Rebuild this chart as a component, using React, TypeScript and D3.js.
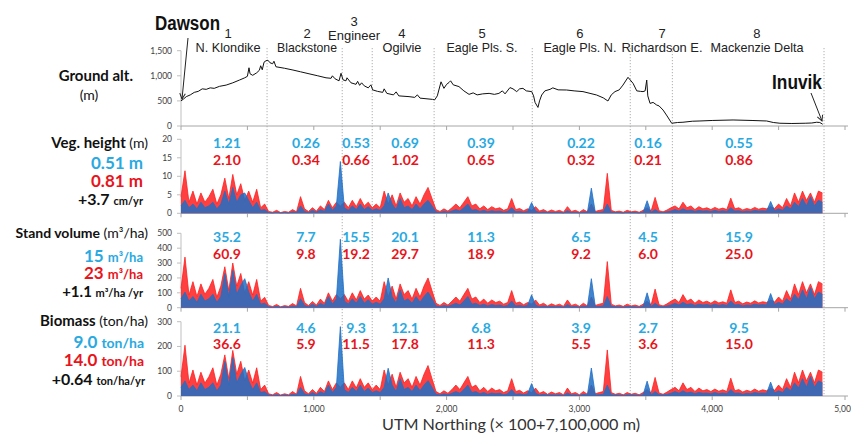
import React from 'react';
import * as d3 from 'd3';

// ---------------- DATA ----------------
const regionBounds = [648, 1214, 1440, 1906, 2645, 3383, 3700, 4842];
const regionNums = ['1', '2', '3', '4', '5', '6', '7', '8'];
const regionNames = ['N. Klondike', 'Blackstone', 'Engineer', 'Ogilvie', 'Eagle Pls. S.', 'Eagle Pls. N.', 'Richardson E.', 'Mackenzie Delta'];

const vegBlueMeans = ['1.21', '0.26', '0.53', '0.69', '0.39', '0.22', '0.16', '0.55'];
const vegRedMeans = ['2.10', '0.34', '0.66', '1.02', '0.65', '0.32', '0.21', '0.86'];
const volBlueMeans = ['35.2', '7.7', '15.5', '20.1', '11.3', '6.5', '4.5', '15.9'];
const volRedMeans = ['60.9', '9.8', '19.2', '29.7', '18.9', '9.2', '6.0', '25.0'];
const bioBlueMeans = ['21.1', '4.6', '9.3', '12.1', '6.8', '3.9', '2.7', '9.5'];
const bioRedMeans = ['36.6', '5.9', '11.5', '17.8', '11.3', '5.5', '3.6', '15.0'];

const altNorthing = [0,20,40,70,100,130,160,190,220,250,290,340,390,440,480,500,512,520,540,570,590,600,612,625,640,655,670,690,700,715,780,843,900,964,1030,1092,1130,1140,1160,1190,1205,1220,1242,1250,1280,1318,1330,1345,1360,1380,1410,1430,1443,1480,1519,1530,1550,1600,1620,1640,1717,1760,1780,1800,1895,1910,1930,1958,1980,2000,2018,2030,2050,2093,2130,2169,2200,2230,2272,2320,2360,2394,2420,2440,2477,2500,2528,2550,2575,2600,2641,2655,2666,2688,2700,2716,2740,2779,2800,2840,2904,2960,3027,3080,3130,3180,3215,3240,3268,3300,3328,3366,3404,3432,3460,3479,3495,3507,3515,3532,3555,3582,3600,3630,3660,3695,3740,3780,3850,3908,4000,4157,4300,4410,4460,4510,4600,4661,4700,4750,4787,4810,4832];
const altMeters = [500,540,585,620,670,690,740,730,760,750,790,815,860,915,960,990,1160,1040,1010,1060,1110,1200,1120,1270,1300,1310,1260,1240,1290,1180,1150,1115,1080,1040,1000,960,950,1000,940,900,1050,920,900,960,860,830,890,810,860,800,760,820,720,690,670,740,650,620,680,600,585,570,620,555,530,520,600,880,750,830,866,900,820,785,700,630,660,620,640,650,630,650,700,640,765,740,685,740,750,700,685,600,470,370,500,617,700,730,760,720,717,700,685,650,617,560,498,620,685,720,815,970,850,700,690,685,700,915,600,450,470,418,400,318,200,55,70,75,95,100,110,120,110,100,70,55,50,53,55,60,75,70,35];

// samples every 30 units of northing
const sampleStep = 30;
const vegRed = [
4.5,11.5,3,6,2.5,5.5,3,4.5,6.5,2.5,5,9.5,4,10.5,5,8,3.5,6,3,6.5,1.5,2.5,
0.5,0.3,0.8,0.2,0.5,0.3,1,0.4,4.5,1.2,0.5,1.5,0.6,2,1,3.5,1.5,3,2,
3,1.5,3.5,1.8,4,2,3,1.5,
2.5,1.5,6,2.5,5,2,5.5,3,4,2,4.5,2.5,5,7,4,
1,0.5,1.2,0.6,1.5,2.5,1.5,3,4.5,2,2.5,1.2,2,1,1.8,1.2,1.5,0.8,1.2,4,1,1.3,0.7,1.2,0.8,
1.8,0.6,1,0.4,0.9,0.5,0.8,0.3,1.8,0.5,0.8,0.3,1,0.4,2.5,0.5,0.8,1,10.8,0.8,0.4,0.6,0.3,0.8,
0.4,0.6,0.3,0.8,1.5,0.6,4.3,0.7,0.4,0.9,1.5,
2,1.2,3,1.5,2,1,1.8,1.2,1.5,1,1.6,1.1,1.4,1,4.1,1.2,1.5,0.9,1.3,1,1.6,1.1,1.4,1.2,1.8,1.3,2.5,1.5,4,2,5.5,3,6,3.5,5.5,3,6,5.5];
const vegBlue = [
2,3.5,1.5,2.5,1.2,3,1.5,2,3,1.2,2.5,6,2.5,7,3,5,5.5,3.5,1.5,3,0.8,1,
0.2,0.1,0.3,0.1,0.2,0.1,0.4,0.2,2,0.5,0.2,0.8,0.3,1,0.5,2.5,0.8,2,14,
1.5,0.8,2,1,2.5,1,1.8,0.8,
1.2,0.8,2,5.5,2.5,1,4,1.5,2,1,2.5,1.2,2.5,3.5,2,
0.4,0.2,0.5,0.3,0.6,1,0.6,1.5,2.5,0.8,1,0.5,0.8,0.4,0.7,0.5,0.6,0.3,0.5,1.5,0.4,0.5,0.3,0.5,2.9,
0.6,0.2,0.4,0.2,0.3,0.2,0.3,0.1,0.7,0.2,0.3,0.1,0.4,0.2,6.8,0.2,0.3,0.4,2.5,0.3,0.2,0.2,0.1,0.3,
0.2,0.2,0.1,0.3,3.4,0.2,1,0.3,0.2,0.4,0.6,
1,0.6,1.2,0.7,0.9,0.5,0.8,0.6,0.7,0.5,0.8,0.5,0.7,0.5,1.5,0.6,0.7,0.4,0.6,0.5,0.8,0.6,0.7,0.6,3.2,0.7,1.2,0.8,2,1.2,3,1.8,4,2,4.5,2,3.5,3];
const volRed = [
130,340,85,175,75,160,90,130,190,70,145,275,115,300,145,230,100,175,85,190,45,70,
15,8,22,6,14,9,28,12,130,35,14,42,18,58,30,100,45,88,60,
88,42,100,52,115,58,85,45,
72,44,175,72,145,58,160,88,115,58,130,72,145,200,115,
30,15,35,18,44,72,44,88,130,58,72,35,58,30,52,35,44,24,35,115,30,38,20,35,24,
52,18,30,12,26,15,24,9,52,15,24,9,30,12,72,15,24,30,310,24,12,18,9,24,
12,18,9,24,44,18,125,20,12,26,44,
58,35,88,44,58,30,52,35,44,30,46,32,40,30,120,35,44,26,38,30,46,32,40,35,52,38,72,44,115,58,160,88,175,100,160,88,175,160];
const volBlue = [
60,105,45,75,36,90,45,60,90,36,75,230,75,250,90,150,195,105,45,90,24,30,
6,3,9,3,6,3,12,6,60,15,6,24,9,30,15,75,24,60,460,
45,24,60,30,75,30,54,24,
36,24,60,200,75,30,120,45,60,30,75,36,75,105,60,
12,6,15,9,18,30,18,45,75,24,30,15,24,12,21,15,18,9,15,45,12,15,9,15,87,
18,6,12,6,9,6,9,3,21,6,9,3,12,6,195,6,9,12,75,9,6,6,3,9,
6,6,3,9,100,6,30,9,6,12,18,
30,18,36,21,27,15,24,18,21,15,24,15,21,15,45,18,21,12,18,15,24,18,21,18,95,21,36,24,60,36,90,54,120,60,135,60,105,90];
const bioRed = [
78,205,52,105,44,96,52,78,114,44,88,166,70,184,88,140,61,105,52,114,26,44,
9,5,14,4,9,5,18,7,79,21,9,26,11,35,18,61,26,53,35,
53,26,61,32,70,35,53,26,
44,26,105,44,88,35,96,53,70,35,79,44,88,123,70,
18,9,21,11,26,44,26,53,79,35,44,21,35,18,32,21,26,14,21,70,18,23,12,21,14,
32,11,18,7,16,9,14,5,32,9,14,5,18,7,44,9,14,18,186,14,7,11,5,14,
7,11,5,14,26,11,75,12,7,16,26,
35,21,53,26,35,18,32,21,26,18,28,19,25,18,72,21,26,16,23,18,28,19,25,21,32,23,44,26,70,35,96,53,105,61,96,53,105,96];
const bioBlue = [
35,61,26,44,21,53,26,35,53,21,44,140,44,155,53,88,115,61,26,53,14,18,
4,2,5,2,4,2,7,4,35,9,4,14,5,18,9,44,14,35,280,
26,14,35,18,44,18,32,14,
21,14,35,112,44,18,70,26,35,18,44,21,44,62,35,
7,4,9,5,11,18,11,26,44,14,18,9,14,7,12,9,11,5,9,26,7,9,5,9,50,
11,4,7,4,5,4,5,2,12,4,5,2,7,4,113,4,5,7,44,5,4,4,2,5,
4,4,2,5,60,4,18,5,4,7,11,
18,11,21,12,16,9,14,11,12,9,14,9,12,9,26,11,12,7,11,9,14,11,12,11,56,12,21,14,35,21,53,32,70,35,79,35,61,53];

const xTickLabels = [0, 1000, 2000, 3000, 4000, 5000];
const xMinorTicks = [0, 500, 1000, 1500, 2000, 2500, 3000, 3500, 4000, 4500, 5000];
const altTicks = [0, 500, 1000, 1500];
const vegTicks = [0, 5, 10, 15, 20];
const volTicks = [0, 100, 200, 300, 400, 500];
const bioTicks = [0, 100, 200, 300];

// ---------------- LAYOUT ----------------
const W = 851, H = 435;
const x = d3.scaleLinear().domain([0, 5000]).range([181, 845]);
const nameCenters = [354, 949, 1303, 1664, 2267, 3004, 3622, 4337];
const nameWidths = [65, 60, 52, 39, 71, 73, 81, 93];
const meanCenters = [346, 941, 1318, 1687, 2259, 3012, 3517, 4202];

const RED = '#ff1f1f';
const BLUE = '#1f6fc6';
const TBLUE = '#29a9e1';
const TRED = '#e8141b';
const NUMFONT = 'Lato, "Open Sans", sans-serif';
const NARROW = '"Liberation Sans Narrow", "Arial Narrow", "Liberation Sans", Arial, sans-serif';
const fmt = d3.format(',');

const panels = [
  { y: d3.scaleLinear().domain([0, 20]).range([213.3, 139.3]), ticks: vegTicks, red: vegRed, blue: vegBlue, bm: vegBlueMeans, rm: vegRedMeans, by: 148, ry: 165 },
  { y: d3.scaleLinear().domain([0, 500]).range([307.7, 233.3]), ticks: volTicks, red: volRed, blue: volBlue, bm: volBlueMeans, rm: volRedMeans, by: 242, ry: 259 },
  { y: d3.scaleLinear().domain([0, 300]).range([396, 321.7]), ticks: bioTicks, red: bioRed, blue: bioBlue, bm: bioBlueMeans, rm: bioRedMeans, by: 333, ry: 349 },
];
const altY = d3.scaleLinear().domain([0, 1500]).range([126, 50.7]);

function YAxis({ y, ticks }: { y: d3.ScaleLinear<number, number>; ticks: number[] }) {
  const top = y(ticks[ticks.length - 1]);
  const bot = y(0);
  return (
    <g>
      <line x1={x(0)} x2={x(0)} y1={top} y2={bot} stroke="#bfbfbf" strokeWidth={1} />
      {ticks.map((t) => (
        <g key={t}>
          <line x1={x(0) - 4} x2={x(0)} y1={y(t)} y2={y(t)} stroke="#bfbfbf" />
          <text x={x(0) - 9} y={y(t) + 3} textAnchor="end" fontSize={8.5} fontFamily={NUMFONT} fill="#404040">{fmt(t)}</text>
        </g>
      ))}
      <line x1={x(0)} x2={x(5000) + 3} y1={bot} y2={bot} stroke="#a6a6a6" strokeWidth={1} />
      {xMinorTicks.map((t) => (
        <line key={t} x1={x(t)} x2={x(t)} y1={bot} y2={bot + 4} stroke="#a6a6a6" />
      ))}
    </g>
  );
}

function Series({ vals, y, color }: { vals: number[]; y: d3.ScaleLinear<number, number>; color: string }) {
  const area = d3.area<number>().x((_, i) => x(i * sampleStep)).y0(y(0)).y1((d) => y(d));
  const line = d3.line<number>().x((_, i) => x(i * sampleStep)).y((d) => y(d));
  return (
    <g>
      <path d={area(vals) || ''} fill={color} fillOpacity={0.85} />
      <path d={line(vals) || ''} fill="none" stroke={color} strokeWidth={0.8} />
    </g>
  );
}

export default function App() {
  const altLine = d3.line<number>().x((d) => x(d)).y((_, i) => altY(altMeters[i]));
  return (
    <svg width={W} height={H} viewBox={`0 0 ${W} ${H}`} style={{ position: 'absolute', left: 0, top: 0, background: '#fff' }}>
      <defs>
        <marker id="arr" viewBox="0 0 10 10" refX="9" refY="5" markerWidth="7" markerHeight="7" orient="auto">
          <path d="M1,1 L9,5 L1,9" fill="none" stroke="#222" strokeWidth={1.4} />
        </marker>
      </defs>
      <rect width={W} height={H} fill="#fff" />

      {/* region divider lines */}
      {regionBounds.map((b) => (
        <line key={b} x1={x(b)} x2={x(b)} y1={48} y2={396} stroke="#9a9a9a" strokeWidth={0.8} strokeDasharray="1.2 1.8" />
      ))}

      {/* region labels */}
      {regionNames.map((n, i) => {
        const two = i === 2;
        return (
          <g key={n} fontFamily={NARROW} fill="#222" textAnchor="middle">
            <text x={x(nameCenters[i])} y={two ? 26 : 38} fontSize={13}>{regionNums[i]}</text>
            <text x={x(nameCenters[i])} y={two ? 40 : 52} fontSize={13} textLength={nameWidths[i]} lengthAdjust="spacingAndGlyphs">{n}</text>
          </g>
        );
      })}

      {/* ground altitude */}
      <YAxis y={altY} ticks={altTicks} />
      <path d={altLine(altNorthing) || ''} fill="none" stroke="#111" strokeWidth={1} />

      {/* lower panels */}
      {panels.map((p, k) => (
        <g key={k}>
          <YAxis y={p.y} ticks={p.ticks} />
          <Series vals={p.red} y={p.y} color={RED} />
          <Series vals={p.blue} y={p.y} color={BLUE} />
          {p.bm.map((v, i) => (
            <text key={'b' + i} x={x(meanCenters[i])} y={p.by} textAnchor="middle" fontFamily={NUMFONT} fontWeight={700} fontSize={14} fill={TBLUE}>{v}</text>
          ))}
          {p.rm.map((v, i) => (
            <text key={'r' + i} x={x(meanCenters[i])} y={p.ry} textAnchor="middle" fontFamily={NUMFONT} fontWeight={700} fontSize={14} fill={TRED}>{v}</text>
          ))}
        </g>
      ))}

      {/* x tick labels */}
      {xTickLabels.map((t) => (
        <text key={t} x={x(t)} y={412} textAnchor="middle" fontSize={8.5} fontFamily={NUMFONT} fill="#404040">{fmt(t)}</text>
      ))}
      <text x={511} y={430} textAnchor="middle" fontSize={16} fontFamily={NUMFONT} fill="#333" textLength={258} lengthAdjust="spacingAndGlyphs">UTM Northing (× 100+7,100,000 m)</text>

      {/* Dawson / Inuvik */}
      <text x={155} y={30} fontFamily={NARROW} fontWeight={700} fontSize={20} fill="#111" textLength={65} lengthAdjust="spacingAndGlyphs">Dawson</text>
      <line x1={188} y1={38} x2={182} y2={99} stroke="#222" strokeWidth={1} markerEnd="url(#arr)" />
      <text x={772} y={89} fontFamily={NARROW} fontWeight={700} fontSize={20} fill="#111" textLength={50} lengthAdjust="spacingAndGlyphs">Inuvik</text>
      <line x1={811} y1={93} x2={822} y2={121} stroke="#222" strokeWidth={1} markerEnd="url(#arr)" />

      {/* left labels */}
      <g fontFamily={NUMFONT}>
        <text x={133} y={81} textAnchor="end" fontSize={15} fontWeight={700} fill="#111">Ground alt.</text>
        <text x={89} y={100} textAnchor="middle" fontSize={14} fill="#111">(m)</text>

        <text x={148} y={148} textAnchor="end" fill="#111"><tspan fontSize={15} fontWeight={700}>Veg. height</tspan><tspan fontSize={14}>{'  (m)'}</tspan></text>
        <text x={143} y={169} textAnchor="end" fontSize={17} fontWeight={700} fill={TBLUE}>0.51 m</text>
        <text x={143} y={187} textAnchor="end" fontSize={17} fontWeight={700} fill={TRED}>0.81 m</text>
        <text x={143} y={205} textAnchor="end" fill="#111"><tspan fontSize={16} fontWeight={700}>+3.7 </tspan><tspan fontSize={11} fontWeight={700}>cm/yr</tspan></text>

        <text x={148} y={238} textAnchor="end" fill="#111"><tspan fontSize={14} fontWeight={700}>Stand volume</tspan><tspan fontSize={14}>{' (m³/ha)'}</tspan></text>
        <text x={143} y={262} textAnchor="end" fill={TBLUE} fontWeight={700}><tspan fontSize={17}>15 </tspan><tspan fontSize={13}>m³/ha</tspan></text>
        <text x={143} y={279} textAnchor="end" fill={TRED} fontWeight={700}><tspan fontSize={17}>23 </tspan><tspan fontSize={13}>m³/ha</tspan></text>
        <text x={143} y={297} textAnchor="end" fill="#111" fontWeight={700}><tspan fontSize={15}>+1.1 </tspan><tspan fontSize={11}>m³/ha /yr</tspan></text>

        <text x={148} y={326} textAnchor="end" fill="#111"><tspan fontSize={15} fontWeight={700}>Biomass</tspan><tspan fontSize={14}>{' (ton/ha)'}</tspan></text>
        <text x={144} y={348} textAnchor="end" fill={TBLUE} fontWeight={700}><tspan fontSize={17}>9.0 </tspan><tspan fontSize={14}>ton/ha</tspan></text>
        <text x={144} y={366} textAnchor="end" fill={TRED} fontWeight={700}><tspan fontSize={17}>14.0 </tspan><tspan fontSize={14}>ton/ha</tspan></text>
        <text x={145} y={385} textAnchor="end" fill="#111" fontWeight={700}><tspan fontSize={16}>+0.64 </tspan><tspan fontSize={11}>ton/ha/yr</tspan></text>
      </g>
    </svg>
  );
}
